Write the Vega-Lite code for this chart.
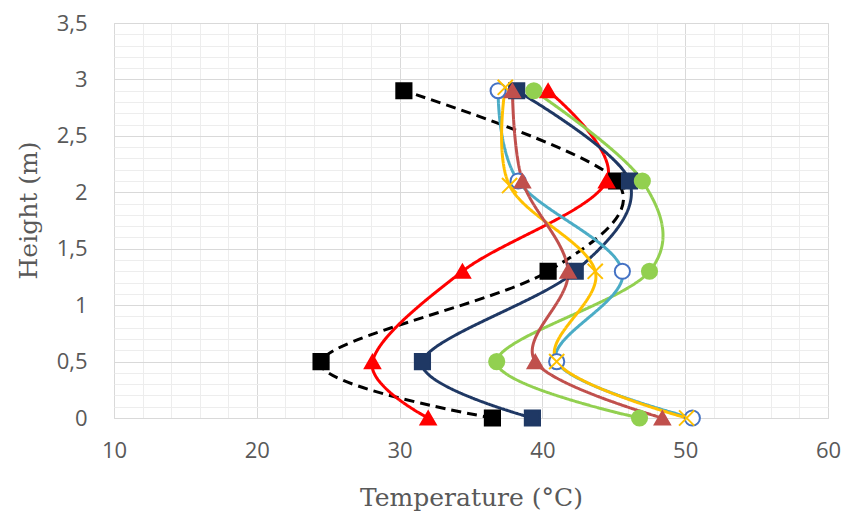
{
  "$schema": "https://vega.github.io/schema/vega-lite/v6.json",
  "width": 714,
  "height": 395,
  "autosize": {"type": "none"},
  "padding": {"left": 114, "top": 23, "right": 17, "bottom": 100},
  "background": "white",
  "config": {
    "view": {"stroke": "#D9D9D9", "strokeWidth": 1},
    "axis": {
      "labelFont": "Open Sans",
      "labelFontSize": 22,
      "labelColor": "#595959",
      "labelFlush": false,
      "titleFont": "DejaVu Serif",
      "titleFontSize": 25,
      "titleFontWeight": "normal",
      "titleColor": "#595959"
    }
  },
  "data": {
    "values": [
      {"series": "S1", "temp": 36.5, "height": 0},
      {"series": "S1", "temp": 24.5, "height": 0.5},
      {"series": "S1", "temp": 40.4, "height": 1.3},
      {"series": "S1", "temp": 45.2, "height": 2.1},
      {"series": "S1", "temp": 30.3, "height": 2.9},
      {"series": "S2", "temp": 32.0, "height": 0},
      {"series": "S2", "temp": 28.1, "height": 0.5},
      {"series": "S2", "temp": 34.4, "height": 1.3},
      {"series": "S2", "temp": 44.5, "height": 2.1},
      {"series": "S2", "temp": 40.4, "height": 2.9},
      {"series": "S3", "temp": 39.3, "height": 0},
      {"series": "S3", "temp": 31.6, "height": 0.5},
      {"series": "S3", "temp": 42.3, "height": 1.3},
      {"series": "S3", "temp": 46.1, "height": 2.1},
      {"series": "S3", "temp": 38.2, "height": 2.9},
      {"series": "S4", "temp": 46.8, "height": 0},
      {"series": "S4", "temp": 36.8, "height": 0.5},
      {"series": "S4", "temp": 47.5, "height": 1.3},
      {"series": "S4", "temp": 47.0, "height": 2.1},
      {"series": "S4", "temp": 39.4, "height": 2.9},
      {"series": "S5", "temp": 50.5, "height": 0},
      {"series": "S5", "temp": 41.0, "height": 0.5},
      {"series": "S5", "temp": 45.6, "height": 1.3},
      {"series": "S5", "temp": 38.3, "height": 2.1},
      {"series": "S5", "temp": 36.9, "height": 2.9},
      {"series": "S6", "temp": 50.1, "height": 0},
      {"series": "S6", "temp": 41.0, "height": 0.5},
      {"series": "S6", "temp": 43.7, "height": 1.3},
      {"series": "S6", "temp": 37.7, "height": 2.06},
      {"series": "S6", "temp": 37.4, "height": 2.93},
      {"series": "S7", "temp": 48.4, "height": 0},
      {"series": "S7", "temp": 39.5, "height": 0.5},
      {"series": "S7", "temp": 41.8, "height": 1.3},
      {"series": "S7", "temp": 38.6, "height": 2.1},
      {"series": "S7", "temp": 37.9, "height": 2.9}
    ]
  },
  "resolve": {"axis": {"x": "independent", "y": "independent"}},
  "layer": [
    {
      "mark": {"type": "line", "interpolate": "cardinal", "strokeWidth": 3},
      "encoding": {
        "x": {
          "field": "temp", "type": "quantitative",
          "scale": {"domain": [10, 60], "nice": false, "zero": false},
          "axis": {
            "orient": "top", "values": [12,14,16,18,22,24,26,28,32,34,36,38,42,44,46,48,52,54,56,58],
            "grid": true, "gridColor": "#EDEDED", "gridWidth": 1,
            "labels": false, "ticks": false, "domain": false, "title": null
          }
        },
        "y": {
          "field": "height", "type": "quantitative",
          "scale": {"domain": [0, 3.5], "nice": false, "zero": false},
          "axis": {
            "orient": "right",
            "values": [0.1,0.2,0.3,0.4,0.6,0.7,0.8,0.9,1.1,1.2,1.3,1.4,1.6,1.7,1.8,1.9,2.1,2.2,2.3,2.4,2.6,2.7,2.8,2.9,3.1,3.2,3.3,3.4],
            "grid": true, "gridColor": "#EDEDED", "gridWidth": 1,
            "labels": false, "ticks": false, "domain": false, "title": null
          }
        },
        "order": {"field": "height", "type": "quantitative"},
        "color": {
          "field": "series", "type": "nominal", "legend": null,
          "scale": {
            "domain": ["S1","S2","S3","S4","S5","S6","S7"],
            "range": ["#000000","#FF0000","#1F3864","#92D050","#4BACC6","#FFC000","#C0504D"]
          }
        },
        "strokeDash": {
          "field": "series", "type": "nominal", "legend": null,
          "scale": {
            "domain": ["S1","S2","S3","S4","S5","S6","S7"],
            "range": [[10,6],[1,0],[1,0],[1,0],[1,0],[1,0],[1,0]]
          }
        }
      }
    },
    {
      "mark": {"type": "point", "filled": true, "strokeWidth": 2, "size": 230, "opacity": 1},
      "encoding": {
        "x": {
          "field": "temp", "type": "quantitative",
          "axis": {
            "orient": "bottom", "values": [10,20,30,40,50,60],
            "grid": true, "gridColor": "#D9D9D9", "gridWidth": 1,
            "ticks": false, "domain": false, "labelPadding": 22,
            "title": "Temperature (°C)", "titleX": 357, "titleY": 79,
            "titleBaseline": "middle", "titleAlign": "center"
          }
        },
        "y": {
          "field": "height", "type": "quantitative",
          "axis": {
            "orient": "left", "values": [0,0.5,1,1.5,2,2.5,3,3.5],
            "labelExpr": "replace(format(datum.value, '.1~f'), '.', ',')",
            "grid": true, "gridColor": "#D9D9D9", "gridWidth": 1,
            "ticks": false, "domain": false, "labelPadding": 27,
            "title": "Height (m)", "titleX": -86, "titleY": 187,
            "titleBaseline": "middle", "titleAlign": "center", "titleAngle": -90
          }
        },
        "shape": {
          "field": "series", "type": "nominal", "legend": null,
          "scale": {
            "domain": ["S1","S2","S3","S4","S5","S6","S7"],
            "range": ["square","triangle-up","square","circle","circle","M-1,-1L1,1M-1,1L1,-1","triangle-up"]
          }
        },
        "fill": {
          "field": "series", "type": "nominal", "legend": null,
          "scale": {
            "domain": ["S1","S2","S3","S4","S5","S6","S7"],
            "range": ["#000000","#FF0000","#1F3864","#92D050","#FFFFFF","#FFC000","#C0504D"]
          }
        },
        "stroke": {
          "field": "series", "type": "nominal", "legend": null,
          "scale": {
            "domain": ["S1","S2","S3","S4","S5","S6","S7"],
            "range": ["#000000","#FF0000","#1F3864","#92D050","#4472C4","#FFC000","#C0504D"]
          }
        }
      }
    }
  ]
}
